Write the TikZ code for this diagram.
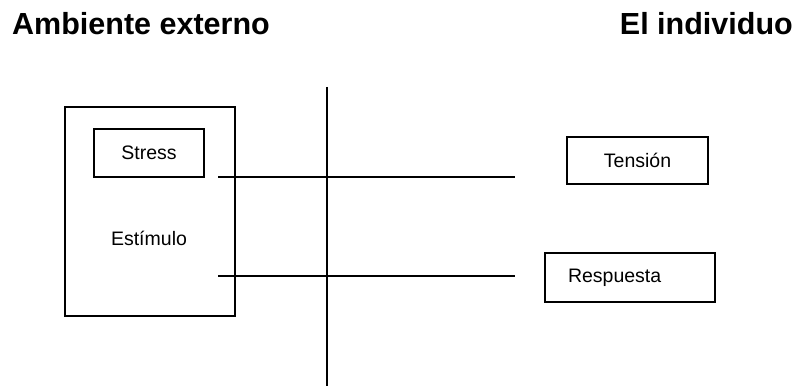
\documentclass[tikz,border=0pt]{standalone}
\usepackage{fontspec}
\setmainfont{Liberation Sans}
\usetikzlibrary{positioning}

\begin{document}
\begin{tikzpicture}[
    x=1pt, y=-1pt,
    % node styles
    title/.style = {
      inner sep=0pt,
      font=\bfseries\fontsize{30.5}{34}\selectfont
    },
    box/.style = {
      draw,
      line width=1.1pt,
      inner sep=0pt,
      align=center,
      font=\fontsize{19.5}{22}\selectfont
    },
    txt/.style = {
      inner sep=0pt,
      font=\fontsize{19.5}{22}\selectfont
    },
    % line styles
    sep/.style = {line width=1.2pt},
    link/.style = {line width=1.2pt}
  ]
  \useasboundingbox (0,0) rectangle (796,387);

  % --- Titles
  \node[title, anchor=base west] (ambiente) at (12,35) {Ambiente externo};
  \node[title, anchor=base east] (individuo) at (793,35) {El individuo};

  % --- Nodes
  \node[box, minimum width=170, minimum height=209] (estimulo) at (150,211.5) {};
  \node[box, minimum width=110, minimum height=48] (stress) at (149,153) {Stress};
  \node[txt] (estimulotxt) at (149,238) {Estímulo};

  \node[box, minimum width=141, minimum height=47] (tension) at (637.5,160.5) {Tensión};
  \node[box, text width=124, inner xsep=23, minimum height=49, align=left]
    (respuesta) at (630,277.5) {Respuesta};

  % --- Lines
  \coordinate (sepTop) at (327,87);
  \coordinate (sepBot) at (327,386);
  \draw[sep] (sepTop) -- (sepBot);

  \coordinate (linkAin) at (218,177);
  \coordinate (linkAout) at (515,177);
  \coordinate (linkBin) at (218,276);
  \coordinate (linkBout) at (515,276);
  \draw[link] (linkAin) -- (linkAout);
  \draw[link] (linkBin) -- (linkBout);

\end{tikzpicture}
\end{document}
